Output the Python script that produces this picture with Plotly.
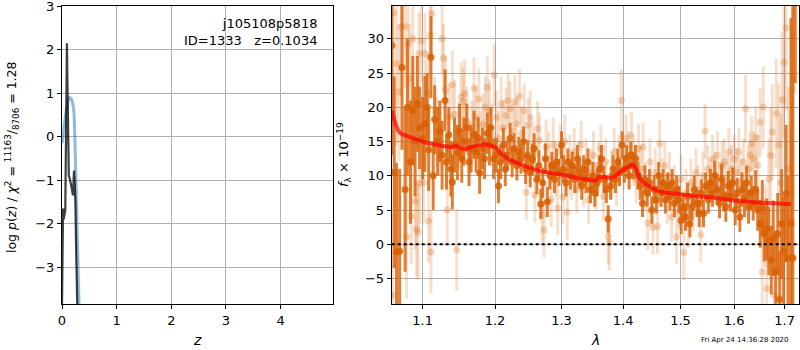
import math
import plotly.graph_objects as go

# ---------------- data ----------------
# left panel: redshift probability
pz_blue_z = [0.0, 0.02, 0.05, 0.08, 0.11, 0.14, 0.17, 0.20, 0.22, 0.235, 0.25, 0.27, 0.29, 0.31, 0.33]
pz_blue_v = [-0.15, 0.1, 0.35, 0.62, 0.82, 0.9, 0.88, 0.75, 0.55, 0.0, -0.8, -1.9, -2.9, -3.9, -4.8]

pz_black_z = [0.0, 0.005, 0.01, 0.02, 0.03, 0.045, 0.06, 0.075, 0.09, 0.1, 0.11, 0.125, 0.14,
              0.16, 0.18, 0.2, 0.21, 0.22, 0.23, 0.245, 0.26, 0.275, 0.285]
pz_black_v = [-3.9, -2.6, -1.75, -1.65, -1.9, -1.8, -1.7, 0.2, 2.15, 1.2, -0.6, -0.9, -0.95,
              -1.05, -1.2, -1.35, -0.95, -0.78, -1.0, -1.5, -2.7, -3.8, -4.2]

# right panel: spectrum, strong (dark) points
dark_wave = [1.060, 1.063, 1.066, 1.070, 1.073, 1.077, 1.080, 1.084, 1.087, 1.090, 1.093, 1.096,
             1.100, 1.103, 1.106, 1.108, 1.111, 1.114, 1.116, 1.120, 1.123, 1.126, 1.130, 1.132,
             1.135, 1.138, 1.140, 1.143, 1.147, 1.150, 1.153, 1.156, 1.160, 1.163, 1.166, 1.170,
             1.173, 1.176, 1.178, 1.182, 1.185, 1.189, 1.192, 1.194, 1.198, 1.202, 1.205, 1.208,
             1.212, 1.215, 1.218, 1.222, 1.225, 1.228, 1.232, 1.235, 1.238, 1.242, 1.245, 1.248,
             1.252, 1.255, 1.258, 1.262, 1.265, 1.268, 1.271, 1.275, 1.278, 1.282, 1.285, 1.289,
             1.292, 1.296, 1.300, 1.303, 1.307, 1.310, 1.314, 1.317, 1.321, 1.325, 1.328, 1.332,
             1.335, 1.339, 1.342, 1.346, 1.350, 1.353, 1.357, 1.361, 1.364, 1.368, 1.372, 1.375,
             1.379, 1.383, 1.387, 1.391, 1.394, 1.398, 1.402, 1.406, 1.410, 1.413, 1.417, 1.421,
             1.425, 1.429, 1.433, 1.437, 1.441, 1.445, 1.449, 1.453, 1.457, 1.461, 1.465, 1.469,
             1.473, 1.477, 1.481, 1.485, 1.489, 1.493, 1.497, 1.501, 1.505, 1.509, 1.513, 1.517,
             1.521, 1.525, 1.530, 1.534, 1.538, 1.542, 1.546, 1.551, 1.555, 1.559, 1.563, 1.567,
             1.572, 1.576, 1.580, 1.584, 1.589, 1.593, 1.597, 1.602, 1.606, 1.611, 1.615, 1.620,
             1.624, 1.628, 1.633, 1.637, 1.642, 1.646, 1.651, 1.655, 1.659, 1.664, 1.668, 1.673,
             1.677, 1.682, 1.686, 1.690, 1.694, 1.698, 1.703, 1.707, 1.713, 1.717, 1.722]
dark_flux = [29.0, 10.5, -1.1, -1.0, 25.8, 8.0, 20.0, 12.0, 19.5, 15.0, 20.5, 17.0,
             15.5, 17.6, 20.0, 13.8, 27.3, 10.0, 18.2, 15.0, 16.5, 13.0, 21.0, 12.0,
             16.0, 11.0, 9.1, 14.5, 13.4, 16.5, 12.5, 15.0, 17.0, 12.0, 14.0, 16.0,
             13.5, 15.5, 10.4, 14.0, 12.5, 16.2, 14.5, 17.0, 12.5, 13.0, 8.5, 12.0,
             14.5, 11.0, 13.0, 15.5, 12.0, 14.0, 11.5, 13.5, 12.5, 15.0, 11.0, 13.0,
             10.5, 12.5, 14.0, 9.5, 11.5, 5.9, 9.0, 12.5, 6.2, 10.0, 11.5, 9.5,
             12.0, 10.5, 14.5, 11.0, 9.0, 12.0, 10.0, 11.5, 9.5, 12.5, 10.5, 8.5,
             11.0, 9.5, 12.0, 8.0, 10.0, 7.5, 9.0, 11.0, 12.5, 9.5, 8.0, 3.7,
             8.5, 11.0, 9.5, 12.0, 10.5, 14.5, 11.0, 12.5, 10.0, 13.0, 11.5, 12.5,
             10.0, 8.5, 6.0, 9.5, 7.5, 9.0, 5.0, 8.0, 6.5, 10.0, 7.5, 9.0,
             6.5, 8.5, 7.0, 9.0, 6.0, 8.0, 6.5, 3.5, 5.5, 4.0, 7.0, 3.0,
             5.5, 8.0, 6.0, 4.5, 7.5, 4.5, 8.5, 6.5, 9.0, 7.5, 10.0, 8.0,
             6.0, 9.5, 7.0, 5.5, 8.5, 7.0, 9.0, 5.0, 7.5, 4.0, 8.0, 6.5,
             9.0, 5.5, 7.5, 6.0, 8.0, 5.0, 3.0, 5.4, 1.5, 2.2, 0.5, -2.3,
             0.9, -4.0, 1.5, -8.0, 3.0, -1.0, 7.4, -2.0, 3.0, -2.0, 40.0]
dark_err = [16, 14, 13, 12, 12, 12, 10, 9, 8, 8, 7, 6,
            6, 7, 5, 6, 6, 5, 5, 5, 4.5, 5, 4.5, 4,
            4, 4, 4, 4, 4, 4, 3.5, 3.5, 3.5, 3.5, 3.5, 3.5,
            3, 3, 3, 3, 3, 3, 3, 3, 3, 2.5, 2.5, 2.5,
            2.5, 2.5, 2.2, 2.2, 2.2, 2.2, 2.2, 2.2, 2.2, 2.2, 2.2, 2.2,
            2.2, 2.2, 2.2, 2.2, 2.2, 2.2, 2.2, 2.2, 2.2, 2.0, 2.0, 2.0,
            2.0, 2.0, 2.0, 2.0, 2.0, 2.0, 2.0, 2.0, 2.0, 2.0, 2.0, 2.0,
            2.0, 2.0, 2.0, 2.0, 2.0, 2.0, 2.0, 2.0, 2.0, 2.0, 2.0, 2.0,
            2.0, 2.0, 2.0, 2.0, 2.0, 2.0, 2.0, 2.0, 2.0, 2.0, 2.0, 2.0,
            2.0, 2.0, 2.0, 2.0, 2.0, 2.0, 2.0, 2.0, 2.0, 2.0, 2.0, 2.0,
            2.0, 2.0, 2.0, 2.0, 2.0, 2.0, 2.0, 2.0, 2.0, 2.0, 2.0, 2.0,
            2.0, 2.0, 2.0, 2.0, 2.0, 2.0, 2.0, 2.0, 2.0, 2.0, 2.2, 2.2,
            2.2, 2.2, 2.2, 2.2, 2.2, 2.2, 2.2, 2.2, 2.2, 2.2, 2.5, 2.5,
            2.5, 2.5, 2.5, 2.5, 2.8, 3.0, 3.5, 4.0, 4.0, 4.5, 5.0, 5.0,
            5.5, 6.0, 6.0, 7.0, 8.0, 8.0, 10.0, 12.0, 30.0, 40.0, 16.5]

# right panel: weak (faint) points
light_wave = [1.061, 1.062, 1.066, 1.069, 1.072, 1.077, 1.079, 1.081, 1.083, 1.085, 1.087, 1.090,
              1.092, 1.094, 1.095, 1.096, 1.098, 1.101, 1.103, 1.107, 1.108, 1.110, 1.111, 1.112,
              1.116, 1.119, 1.123, 1.126, 1.128, 1.131, 1.133, 1.136, 1.140, 1.143, 1.146, 1.149,
              1.152, 1.155, 1.157, 1.160, 1.164, 1.167, 1.170, 1.173, 1.177, 1.180, 1.183, 1.186,
              1.189, 1.192, 1.196, 1.199, 1.202, 1.205, 1.209, 1.212, 1.216, 1.219, 1.222, 1.226,
              1.229, 1.232, 1.236, 1.239, 1.243, 1.246, 1.249, 1.252, 1.256, 1.259, 1.263, 1.266,
              1.270, 1.273, 1.276, 1.280, 1.284, 1.287, 1.291, 1.294, 1.298, 1.302, 1.305, 1.309,
              1.313, 1.316, 1.320, 1.324, 1.327, 1.331, 1.335, 1.339, 1.343, 1.347, 1.351, 1.355,
              1.359, 1.363, 1.367, 1.371, 1.375, 1.377, 1.381, 1.385, 1.389, 1.393, 1.397, 1.401,
              1.405, 1.409, 1.414, 1.418, 1.422, 1.426, 1.430, 1.434, 1.438, 1.442, 1.446, 1.451,
              1.455, 1.459, 1.463, 1.467, 1.472, 1.476, 1.480, 1.484, 1.489, 1.493, 1.497, 1.501,
              1.506, 1.510, 1.514, 1.519, 1.523, 1.528, 1.532, 1.537, 1.541, 1.545, 1.550, 1.554,
              1.559, 1.563, 1.568, 1.572, 1.577, 1.581, 1.586, 1.590, 1.595, 1.600, 1.605, 1.609,
              1.613, 1.618, 1.622, 1.627, 1.631, 1.634, 1.638, 1.642, 1.646, 1.651, 1.655, 1.657,
              1.661, 1.664, 1.668, 1.672, 1.675, 1.679, 1.683, 1.688, 1.692, 1.695, 1.699, 1.703,
              1.708, 1.713, 1.717]
light_flux = [-7.4, 33.8, 26.4, 22.2, 31.7, 31.8, 1.1, 29.3, 24.2, 4.1, 30.0, 6.3,
              2.2, 1.8, 27.8, 8.9, 29.7, 9.0, 27.8, 22.0, 3.4, 30.5, -1.1, 33.7,
              19.5, 16.5, 15.0, 30.0, 27.2, 22.5, 5.0, 18.5, 23.3, 19.0, -0.8, 16.0,
              21.5, 20.8, 22.0, 18.0, 13.5, 16.5, 22.8, 18.5, 21.2, 15.0, 17.5, 20.0,
              22.9, 19.5, 16.0, 24.7, 18.5, 15.5, 20.5, 17.0, 18.8, 21.0, 19.8, 16.5,
              20.8, 17.6, 21.6, 16.2, 19.5, 7.6, 17.4, 18.5, 14.0, 7.2, 16.9, 15.2,
              4.3, 2.1, 14.2, 12.5, 6.5, 14.5, 11.0, 5.3, 13.5, 6.9, 15.0, 4.7,
              12.5, 10.0, 13.5, 8.0, 11.5, 14.5, 9.0, 12.0, 6.5, 10.5, 13.0, 8.5,
              11.5, 14.0, 7.0, 12.0, 1.1, 0.2, 10.0, 13.5, 9.0, 12.5, 21.0, 11.5,
              15.5, 13.0, 15.9, 12.0, 9.5, 14.0, 11.0, 14.2, 8.5, 3.1, 12.0, 2.5,
              10.5, 2.6, 14.7, 9.0, 11.5, 6.5, 10.0, 4.0, 8.0, 1.1, 6.0, 9.5,
              -1.2, 7.5, 3.0, 9.0, 5.5, 10.5, 8.0, 1.4, 10.0, 16.5, 11.0, 9.0,
              12.5, 10.0, 13.0, 8.5, 11.5, 12.0, 9.5, 13.5, 11.0, 12.5, 10.5, 13.5,
              9.0, 12.0, 19.8, 11.0, 13.0, 14.7, 12.5, 15.6, 11.5, 17.8, -4.0, 20.0,
              2.7, -6.4, 9.5, 13.0, 16.4, -7.4, 19.1, 14.5, 9.0, 21.1, 26.6, 31.6,
              11.0, 3.4, 22.6]
light_err = [12, 14, 12, 10, 10, 9, 9, 8, 8, 7, 7, 7,
             7, 7, 6, 6, 6, 6, 6, 6, 6, 6, 6, 6,
             5, 5, 5, 5, 5, 5, 5, 5, 5, 5, 6, 5,
             5, 5, 5, 5, 4.5, 4.5, 4.5, 4.5, 4.5, 4.5, 4.5, 4.5,
             4.5, 4.5, 4.5, 4.5, 4, 4, 4, 4, 4, 4, 4, 4,
             4, 4, 4, 4, 4, 4, 4, 4, 4, 4, 4, 4,
             4, 4, 4, 4, 4, 4, 4, 4, 4, 4, 4, 4,
             3.5, 3.5, 3.5, 3.5, 3.5, 3.5, 3.5, 3.5, 3.5, 3.5, 3.5, 3.5,
             3.5, 3.5, 3.5, 3.5, 4, 4, 3.5, 3.5, 3.5, 3.5, 4.5, 3.5,
             3.5, 3.5, 3.5, 3.5, 3.5, 3.5, 3.5, 3.5, 3.5, 4, 3.5, 4,
             3.5, 4, 3.5, 3.5, 3.5, 3.5, 3.5, 3.5, 3.5, 4, 3.5, 3.5,
             4, 3.5, 3.5, 3.5, 3.5, 3.5, 3.5, 4, 3.5, 4, 3.5, 3.5,
             3.5, 3.5, 3.5, 3.5, 3.5, 3.5, 3.5, 3.5, 3.5, 3.5, 3.5, 3.5,
             3.5, 3.5, 5, 3.5, 3.5, 4, 4, 4.5, 4.5, 5, 7, 6,
             6, 8, 6, 7, 7, 9, 8, 9, 10, 10, 11, 12,
             12, 14, 16]

# right panel: best-fit model
model_wave = [1.060, 1.065, 1.070, 1.080, 1.090, 1.100, 1.110, 1.120, 1.130, 1.140, 1.145, 1.150,
              1.155, 1.160, 1.170, 1.180, 1.185, 1.190, 1.200, 1.210, 1.220, 1.230, 1.240, 1.250,
              1.260, 1.270, 1.280, 1.290, 1.300, 1.310, 1.320, 1.330, 1.340, 1.350, 1.355, 1.360,
              1.370, 1.380, 1.390, 1.400, 1.410, 1.415, 1.420, 1.425, 1.430, 1.440, 1.450, 1.460,
              1.470, 1.480, 1.500, 1.520, 1.550, 1.580, 1.600, 1.630, 1.650, 1.680, 1.700, 1.713]
model_flux = [19.5, 17.5, 16.3, 15.8, 15.4, 15.0, 14.7, 14.5, 14.3, 14.2, 14.4, 14.1,
              13.9, 14.0, 14.3, 14.5, 14.6, 14.5, 14.2, 13.1, 12.4, 12.0, 11.6, 11.2,
              10.9, 10.6, 10.5, 10.3, 10.2, 10.0, 9.8, 9.6, 9.5, 9.3, 9.4, 9.8,
              9.8, 9.7, 10.2, 10.9, 11.4, 11.6, 11.3, 10.2, 9.4, 8.7, 8.2, 7.8,
              7.6, 7.5, 7.3, 7.1, 6.9, 6.6, 6.4, 6.2, 6.1, 6.0, 5.9, 5.9]

x_ticks_lam = [1.1, 1.2, 1.3, 1.4, 1.5, 1.6, 1.7]
x_ticks_z = [0, 1, 2, 3, 4]
y_ticks_pz = [-3, -2, -1, 0, 1, 2, 3]
y_ticks_flux = [-5, 0, 5, 10, 15, 20, 25, 30]

# ---------------- figure ----------------
ORANGE = "217,95,2"
FONT = "DejaVu Sans"

fig = go.Figure()

fig.add_trace(go.Scatter(x=pz_blue_z, y=pz_blue_v, mode="lines", xaxis="x", yaxis="y",
                         line=dict(color="rgba(31,119,180,0.5)", width=3), showlegend=False))
fig.add_trace(go.Scatter(x=pz_black_z, y=pz_black_v, mode="lines", xaxis="x", yaxis="y",
                         line=dict(color="rgba(0,0,0,0.75)", width=2.2), showlegend=False))

fig.add_trace(go.Scatter(x=light_wave, y=light_flux, mode="markers", xaxis="x2", yaxis="y2",
                         marker=dict(color=f"rgba({ORANGE},0.25)", size=7, line=dict(width=0)),
                         error_y=dict(type="data", array=light_err, color=f"rgba({ORANGE},0.2)",
                                      thickness=3, width=0),
                         showlegend=False))
fig.add_trace(go.Scatter(x=dark_wave, y=dark_flux, mode="markers", xaxis="x2", yaxis="y2",
                         marker=dict(color=f"rgba({ORANGE},0.85)", size=7, line=dict(width=0)),
                         error_y=dict(type="data", array=dark_err, color=f"rgba({ORANGE},0.8)",
                                      thickness=3, width=0),
                         showlegend=False))
fig.add_trace(go.Scatter(x=model_wave, y=model_flux, mode="lines", xaxis="x2", yaxis="y2",
                         line=dict(color="rgba(255,0,0,0.7)", width=4, shape="spline"),
                         showlegend=False))

fig.add_shape(type="line", xref="x2 domain", x0=0, x1=1, yref="y2", y0=0, y1=0,
              line=dict(color="black", width=2, dash="dot"), layer="above")

ytop = 1 - 5.5 / 350
ybot = 1 - 304 / 350
axis_common = dict(showline=True, linecolor="black", linewidth=1, mirror=True,
                   ticks="outside", ticklen=4, tickcolor="black",
                   showgrid=True, gridcolor="#b0b0b0", gridwidth=1, zeroline=False,
                   ticklabeloverflow="allow", automargin=False,
                   tickfont=dict(family=FONT, size=13, color="black"))

fig.update_layout(
    width=800, height=350,
    margin=dict(l=0, r=0, t=0, b=0),
    paper_bgcolor="white", plot_bgcolor="white",
    font=dict(family=FONT, size=13, color="black"),
    xaxis=dict(domain=[62 / 800, 333 / 800], range=[0, 4.96], tickvals=x_ticks_z,
               anchor="y", **axis_common),
    yaxis=dict(domain=[ybot, ytop], range=[-3.85, 3.02], tickvals=y_ticks_pz,
               anchor="x", **axis_common),
    xaxis2=dict(domain=[391.7 / 800, 798.5 / 800], type="log",
                range=[math.log10(1.0598), math.log10(1.7287)],
                tickvals=x_ticks_lam, ticktext=[f"{v:.1f}" for v in x_ticks_lam],
                anchor="y2", **axis_common),
    yaxis2=dict(domain=[ybot, ytop], range=[-8.7, 34.85], tickvals=y_ticks_flux,
                anchor="x2", **axis_common),
)

ann = []
ann.append(dict(xref="paper", yref="paper", x=319 / 800, y=1 - 14 / 350, xanchor="right",
                yanchor="top", align="right", showarrow=False,
                text="j105108p5818<br>ID=1333\u00a0\u00a0\u00a0z=0.1034",
                font=dict(family=FONT, size=13, color="black")))
ann.append(dict(xref="paper", yref="paper", x=12 / 800, y=1 - 157 / 350, xanchor="center",
                yanchor="middle", textangle=-90, showarrow=False,
                text="log <i>p</i>(<i>z</i>) / <i>χ</i><sup>2</sup> = "
                     "<sup>11163</sup>/<sub>8706</sub> = 1.28",
                font=dict(family=FONT, size=12.5, color="black")))
ann.append(dict(xref="paper", yref="paper", x=344 / 800, y=1 - 155 / 350, xanchor="center",
                yanchor="middle", textangle=-90, showarrow=False,
                text="<i>f</i><sub>λ</sub> × 10<sup>−19</sup>",
                font=dict(family=FONT, size=13, color="black")))
ann.append(dict(xref="paper", yref="paper", x=197 / 800, y=1 - 340 / 350, xanchor="center",
                yanchor="middle", showarrow=False, text="<i>z</i>",
                font=dict(family=FONT, size=14, color="black")))
ann.append(dict(xref="paper", yref="paper", x=595 / 800, y=1 - 340 / 350, xanchor="center",
                yanchor="middle", showarrow=False, text="<i>λ</i>",
                font=dict(family=FONT, size=14, color="black")))
ann.append(dict(xref="paper", yref="paper", x=745 / 800, y=1 - 340 / 350, xanchor="center",
                yanchor="middle", showarrow=False, text="Fri Apr 24 14:36:28 2020",
                font=dict(family=FONT, size=7, color="black")))
fig.update_layout(annotations=ann)

fig.write_html("out.html", config={"displayModeBar": False},
               post_script="document.body.style.margin='0';document.body.style.overflow='hidden';")
